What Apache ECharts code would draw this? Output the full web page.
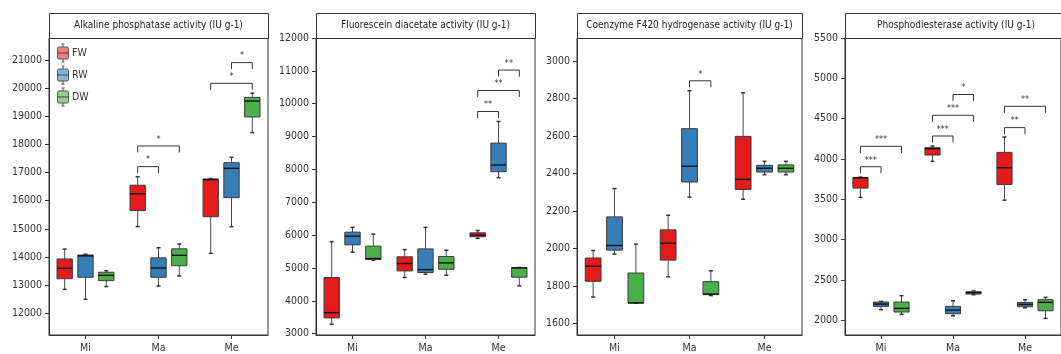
<!DOCTYPE html>
<html>
<head>
<meta charset="utf-8">
<script src="https://cdn.jsdelivr.net/npm/echarts@6/dist/echarts.min.js"></script>
<style>
  html, body { margin: 0; padding: 0; background: #fff; }
  #chart { width: 1061px; height: 354px; }
</style>
</head>
<body>
<div id="chart"></div>
<script>
// ---- data -------------------------------------------------------------
const categories = ['Mi', 'Ma', 'Me'];
const groups = ['FW', 'RW', 'DW'];

// box statistics per category: [min, q1, median, q3, max]
const alkalineFW = [[12850, 13230, 13600, 13930, 14280], [15080, 15650, 16250, 16550, 16850], [14130, 15430, 16750, 16770, 16790]];
const alkalineRW = [[12500, 13280, 14040, 14070, 14100], [12970, 13280, 13610, 13970, 14330], [15080, 16110, 17150, 17350, 17540]];
const alkalineDW = [[12950, 13160, 13350, 13460, 13515], [13330, 13690, 14060, 14290, 14460], [18420, 18975, 19540, 19670, 19820]];

const fluoresceinFW = [[3290, 3480, 3640, 4710, 5800], [4710, 4910, 5135, 5340, 5560], [5900, 5950, 6000, 6070, 6140]];
const fluoresceinRW = [[5480, 5705, 5970, 6090, 6235], [4810, 4860, 4950, 5580, 6235], [7750, 7930, 8135, 8800, 9460]];
const fluoresceinDW = [[5240, 5257, 5290, 5665, 6030], [4780, 4960, 5155, 5350, 5540], [4455, 4720, 5000, 5013, 5015]];

const coenzymeFW = [[1742, 1826, 1907, 1950, 1990], [1850, 1939, 2029, 2100, 2178], [2263, 2315, 2369, 2598, 2830]];
const coenzymeRW = [[1971, 1992, 2017, 2169, 2320], [2274, 2355, 2439, 2639, 2841], [2394, 2408, 2428, 2444, 2465]];
const coenzymeDW = [[1709, 1711, 1711, 1870, 2024], [1750, 1755, 1758, 1824, 1882], [2394, 2408, 2428, 2446, 2465]];

const phosphoFW = [[3522, 3638, 3765, 3768, 3774], [3969, 4048, 4127, 4139, 4160], [3488, 3683, 3891, 4081, 4272]];
const phosphoRW = [[2129, 2170, 2199, 2224, 2232], [2054, 2079, 2124, 2170, 2240], [2153, 2166, 2195, 2220, 2253]];
const phosphoDW = [[2071, 2100, 2145, 2224, 2303], [2315, 2323, 2340, 2352, 2361], [2021, 2116, 2220, 2253, 2282]];

// significance brackets: [category, fromGroup, toGroup, level]
const alkalineBrackets = [[1, 0, 1, 17210], [1, 0, 2, 17945], [2, 0, 2, 20170], [2, 1, 2, 20905]];
const alkalineStars = ['*', '*', '*', '*'];
const fluoresceinBrackets = [[2, 0, 1, 9763], [2, 0, 2, 10403], [2, 1, 2, 11024]];
const fluoresceinStars = ['**', '**', '**'];
const coenzymeBrackets = [[1, 1, 2, 2894]];
const coenzymeStars = ['*'];
const phosphoBrackets = [[0, 0, 1, 3903], [0, 0, 2, 4156], [1, 0, 1, 4284], [1, 0, 2, 4541], [1, 1, 2, 4799], [2, 0, 1, 4388], [2, 0, 2, 4653]];
const phosphoStars = ['***', '***', '***', '***', '*', '**', '**'];

// y-axis tick labels
const alkalineTicks = [12000, 13000, 14000, 15000, 16000, 17000, 18000, 19000, 20000, 21000];
const fluoresceinTicks = [3000, 4000, 5000, 6000, 7000, 8000, 9000, 10000, 11000, 12000];
const coenzymeTicks = [1600, 1800, 2000, 2200, 2400, 2600, 2800, 3000];
const phosphoTicks = [2000, 2500, 3000, 3500, 4000, 4500, 5000, 5500];

const panelTitles = [
  'Alkaline phosphatase activity (IU g-1)',
  'Fluorescein diacetate activity (IU g-1)',
  'Coenzyme F420 hydrogenase activity (IU g-1)',
  'Phosphodiesterase activity (IU g-1)'
];

// ---- styling / layout -------------------------------------------------
const FONT = "'DejaVu Sans Condensed', 'DejaVu Sans', sans-serif";
const groupColors = ['#e41a1c', '#377eb8', '#4daf4a'];
const legendColors = ['#f07f80', '#88b3db', '#94d092'];
const groupOffset = [-0.285, 0, 0.285];   // position of each group inside a category band
const boxHalf = 0.105;                    // half box width, in band units
const capHalf = 2;                        // whisker cap half width, px
const EDGE = '#3a3a3a';

const panels = [
  { left: 49, width: 219, min: 11230, max: 21780, ticks: alkalineTicks, sets: [alkalineFW, alkalineRW, alkalineDW], brackets: alkalineBrackets, stars: alkalineStars },
  { left: 316, width: 219, min: 2960, max: 12000, ticks: fluoresceinTicks, sets: [fluoresceinFW, fluoresceinRW, fluoresceinDW], brackets: fluoresceinBrackets, stars: fluoresceinStars },
  { left: 577, width: 225, min: 1540, max: 3122, ticks: coenzymeTicks, sets: [coenzymeFW, coenzymeRW, coenzymeDW], brackets: coenzymeBrackets, stars: coenzymeStars },
  { left: 845, width: 222, min: 1815, max: 5500, ticks: phosphoTicks, sets: [phosphoFW, phosphoRW, phosphoDW], brackets: phosphoBrackets, stars: phosphoStars }
];
const GRID_TOP = 38;
const GRID_BOTTOM = 335;
const STRIP_TOP = 13;

// ---- renderers --------------------------------------------------------
function boxRenderer(g) {
  return function (params, api) {
    const c = api.value(0);
    const band = api.size([1, 0])[0];
    const cx = api.coord([c, 0])[0] + groupOffset[g] * band;
    const half = boxHalf * band;
    const y = (i) => api.coord([c, api.value(i)])[1];
    const yMin = y(1), yQ1 = y(2), yMed = y(3), yQ3 = y(4), yMax = y(5);
    const whisker = { stroke: '#4a4a4a', lineWidth: 1 };
    return {
      type: 'group',
      children: [
        { type: 'line', shape: { x1: cx, y1: yMax, x2: cx, y2: yQ3 }, style: whisker },
        { type: 'line', shape: { x1: cx, y1: yQ1, x2: cx, y2: yMin }, style: whisker },
        { type: 'line', shape: { x1: cx - capHalf, y1: yMax, x2: cx + capHalf, y2: yMax }, style: { stroke: '#333', lineWidth: 1.5 } },
        { type: 'line', shape: { x1: cx - capHalf, y1: yMin, x2: cx + capHalf, y2: yMin }, style: { stroke: '#333', lineWidth: 1.5 } },
        { type: 'rect', shape: { x: cx - half, y: yQ3, width: 2 * half, height: Math.max(yQ1 - yQ3, 1) },
          style: { fill: groupColors[g], stroke: EDGE, lineWidth: 1 } },
        { type: 'line', shape: { x1: cx - half, y1: yMed, x2: cx + half, y2: yMed }, style: { stroke: '#111', lineWidth: 1.4 } }
      ]
    };
  };
}

function bracketRenderer(stars) {
  return function (params, api) {
    const c = api.value(0);
    const band = api.size([1, 0])[0];
    const base = api.coord([c, api.value(3)]);
    const x1 = base[0] + groupOffset[api.value(1)] * band;
    const x2 = base[0] + groupOffset[api.value(2)] * band;
    const yl = base[1];
    const drop = 6.5;
    return {
      type: 'group',
      children: [
        { type: 'polyline', shape: { points: [[x1, yl + drop], [x1, yl], [x2, yl], [x2, yl + drop]] },
          style: { stroke: '#333', lineWidth: 1, fill: null } },
        { type: 'text', x: (x1 + x2) / 2, y: yl - 2,
          style: { text: stars[params.dataIndex], fill: '#333', font: '9px ' + FONT, align: 'center', verticalAlign: 'bottom' } }
      ]
    };
  };
}

// ---- build option -----------------------------------------------------
const grid = [], xAxis = [], yAxis = [], series = [], graphic = [];

panels.forEach((p, i) => {
  grid.push({ left: p.left, top: GRID_TOP, width: p.width, height: GRID_BOTTOM - GRID_TOP,
    show: true, borderColor: '#333', borderWidth: 1, backgroundColor: 'transparent' });
  xAxis.push({
    type: 'category', gridIndex: i, data: categories,
    axisLine: { show: true, lineStyle: { color: '#333', width: 1 } },
    axisTick: { show: true, alignWithLabel: true, length: 4, lineStyle: { color: '#333' } },
    axisLabel: { fontSize: 10.5, color: '#333', fontFamily: FONT, margin: 8 },
    splitLine: { show: false }
  });
  yAxis.push({
    type: 'value', gridIndex: i, min: p.min, max: p.max,
    axisLine: { show: true, lineStyle: { color: '#333', width: 1 } },
    axisTick: { show: true, length: 4, customValues: p.ticks, lineStyle: { color: '#333' } },
    axisLabel: { customValues: p.ticks, formatter: (v) => String(v), fontSize: 10.5, color: '#333', fontFamily: FONT, margin: 7 },
    splitLine: { show: false }
  });

  p.sets.forEach((set, g) => {
    series.push({
      type: 'custom', name: groups[g], xAxisIndex: i, yAxisIndex: i,
      renderItem: boxRenderer(g),
      encode: { x: 0, y: [1, 2, 3, 4, 5] },
      data: set.map((s, c) => [c].concat(s)),
      clip: false, silent: true
    });
  });

  series.push({
    type: 'custom', xAxisIndex: i, yAxisIndex: i,
    renderItem: bracketRenderer(p.stars),
    encode: { x: 0, y: 3 },
    data: p.brackets,
    clip: false, silent: true, z: 3
  });

  // title strip above each panel
  graphic.push({
    type: 'rect', left: p.left, top: STRIP_TOP, z: 10,
    shape: { width: p.width, height: GRID_TOP - STRIP_TOP },
    style: { fill: '#fff', stroke: '#333', lineWidth: 1 }
  });
  graphic.push({
    type: 'text', x: p.left + p.width / 2, y: (STRIP_TOP + GRID_TOP) / 2, z: 11,
    style: { text: panelTitles[i], fill: '#222', font: '10px ' + FONT, align: 'center', verticalAlign: 'middle' }
  });
});

// legend with small box icons in the first panel
groups.forEach((name, g) => {
  const cy = 53 + 22 * g;
  const cx = 63;
  graphic.push({
    type: 'group', z: 12,
    children: [
      { type: 'line', shape: { x1: cx, y1: cy - 9, x2: cx, y2: cy + 9 }, style: { stroke: '#555', lineWidth: 1 } },
      { type: 'line', shape: { x1: cx - 1.5, y1: cy - 9, x2: cx + 1.5, y2: cy - 9 }, style: { stroke: '#555', lineWidth: 1 } },
      { type: 'line', shape: { x1: cx - 1.5, y1: cy + 9, x2: cx + 1.5, y2: cy + 9 }, style: { stroke: '#555', lineWidth: 1 } },
      { type: 'rect', shape: { x: cx - 5.5, y: cy - 6, width: 11, height: 12, r: 1.5 }, style: { fill: legendColors[g], stroke: '#555', lineWidth: 1 } },
      { type: 'line', shape: { x1: cx - 5.5, y1: cy, x2: cx + 5.5, y2: cy }, style: { stroke: '#444', lineWidth: 1 } },
      { type: 'text', x: 72, y: cy, style: { text: name, fill: '#333', font: '10.5px ' + FONT, align: 'left', verticalAlign: 'middle' } }
    ]
  });
});

const chart = echarts.init(document.getElementById('chart'), null, { renderer: 'canvas' });
chart.setOption({
  animation: false,
  backgroundColor: '#fff',
  grid, xAxis, yAxis, series, graphic
});
</script>
</body>
</html>
